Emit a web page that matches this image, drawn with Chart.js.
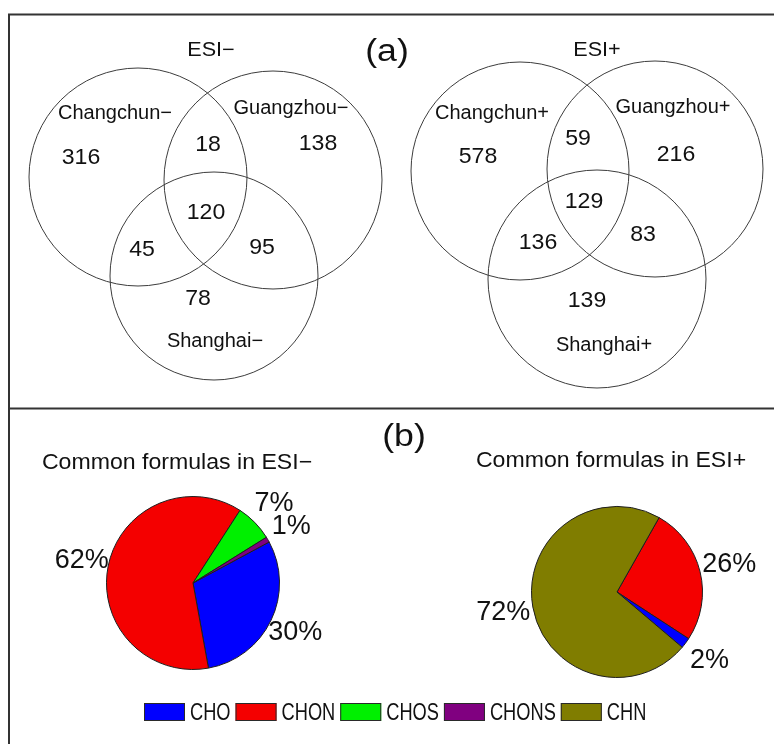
<!DOCTYPE html>
<html>
<head>
<meta charset="utf-8">
<script src="https://cdn.jsdelivr.net/npm/chart.js@4.4.0/dist/chart.umd.min.js"></script>
<style>
  html, body { margin: 0; padding: 0; background: #fff; }
  body { width: 774px; height: 744px; position: relative; overflow: hidden; }
  canvas { position: absolute; }
  #main { left: 0; top: 0; }
  #pieNeg { left: 43px; top: 463px; }
  #piePos { left: 467px; top: 472px; }
</style>
</head>
<body>
<canvas id="main" width="774" height="744"></canvas>
<canvas id="pieNeg" width="300" height="240"></canvas>
<canvas id="piePos" width="300" height="240"></canvas>
<script>
// ---- Venn counts (number of molecular formulas per region) ----
const setNames = ['Changchun', 'Guangzhou', 'Shanghai'];
const ionModes = ['ESI−', 'ESI+'];
const modeSuffix = ['−', '+'];
// region order: only Changchun, only Guangzhou, Changchun∩Guangzhou, all three,
//               Changchun∩Shanghai, Guangzhou∩Shanghai, only Shanghai
const countsNeg = [316, 138, 18, 120, 45, 95, 78];
const countsPos = [578, 216, 59, 129, 136, 83, 139];

// ---- Composition of the formulas common to all three cities (%) ----
const formulaClasses = ['CHO', 'CHON', 'CHOS', 'CHONS', 'CHN'];
const classColors = ['#0000ff', '#f40000', '#00f000', '#800080', '#807d00'];
const commonShareNeg = [30, 62, 7, 1, 0];
const commonSharePos = [2, 26, 0, 0, 72];

const FONT = '"Liberation Sans", Arial, sans-serif';
const INK = '#111';

// Placement of circles and labels on the Venn canvas (canvas units)
const vennLayout = [
  { header: [211, 50],
    circles: [[138, 177, 109], [273, 180, 109], [214, 276, 104]],
    names: [[115, 113], [291, 108], [215, 341]],
    counts: [[81, 158], [318, 144], [208, 145], [206, 213], [142, 250], [262, 248], [198, 299]] },
  { header: [597, 50],
    circles: [[520, 171, 109], [655, 169, 108], [597, 279, 109]],
    names: [[492, 113], [673, 107], [604, 345]],
    counts: [[478, 157], [676, 155], [578, 139], [584, 202], [538, 243], [643, 235], [587, 301]] }
];
const vennCounts = [countsNeg, countsPos];

const pieLayout = [
  { id: 'pieNeg', shares: commonShareNeg, title: [177, 463], order: ['CHO', 'CHON', 'CHOS', 'CHONS'],
    rotation: 61.7, pad: { left: 63, right: 63, top: 33, bottom: 33 }, offset: 27 },
  { id: 'piePos', shares: commonSharePos, title: [611, 461], order: ['CHON', 'CHO', 'CHN'],
    rotation: 29.5, pad: { left: 64, right: 64, top: 34, bottom: 34 }, offset: 30 }
];
const panelTags = [['(a)', 387, 52], ['(b)', 404, 437]];
const legendStart = [144, 703];

function drawText(ctx, str, px, py, size, sx = 1, align = 'center') {
  ctx.save();
  ctx.translate(px, py);
  ctx.scale(sx, 1);
  ctx.font = size + 'px ' + FONT;
  ctx.fillStyle = INK;
  ctx.textAlign = align;
  ctx.textBaseline = 'middle';
  ctx.fillText(str, 0, 0);
  ctx.restore();
}

// Frame, Venn labels, panel titles and the shared legend
const figureDecor = {
  id: 'figureDecor',
  beforeDatasetsDraw(chart) {
    const ctx = chart.ctx, xs = chart.scales.x, ys = chart.scales.y;
    ctx.save();
    ctx.strokeStyle = '#333';
    ctx.lineWidth = 2;
    ctx.beginPath();
    ctx.moveTo(xs.getPixelForValue(9), ys.getPixelForValue(744));
    ctx.lineTo(xs.getPixelForValue(9), ys.getPixelForValue(14.5));
    ctx.lineTo(xs.getPixelForValue(774), ys.getPixelForValue(14.5));
    ctx.moveTo(xs.getPixelForValue(9), ys.getPixelForValue(408.5));
    ctx.lineTo(xs.getPixelForValue(774), ys.getPixelForValue(408.5));
    ctx.stroke();
    ctx.restore();
  },
  afterDatasetsDraw(chart) {
    const ctx = chart.ctx, xs = chart.scales.x, ys = chart.scales.y;
    const P = (p) => [xs.getPixelForValue(p[0]), ys.getPixelForValue(p[1])];

    panelTags.forEach(([t, x, y]) => { const [px, py] = P([x, y]); drawText(ctx, t, px, py, 31, 1.15); });

    vennLayout.forEach((g, m) => {
      let [hx, hy] = P(g.header);
      drawText(ctx, ionModes[m], hx, hy, 20, 1.08);
      g.names.forEach((p, i) => {
        const [px, py] = P(p);
        drawText(ctx, setNames[i] + modeSuffix[m], px, py, 20);
      });
      g.counts.forEach((p, i) => {
        const [px, py] = P(p);
        drawText(ctx, String(vennCounts[m][i]), px, py, 22, 1.05);
      });
    });

    pieLayout.forEach((pl, m) => {
      const [px, py] = P(pl.title);
      drawText(ctx, 'Common formulas in ' + ionModes[m], px, py, 22, 1.05);
    });

    // legend: colour box followed by a condensed label
    let [lx, ly] = P(legendStart);
    const sx = 0.76;
    ctx.save();
    formulaClasses.forEach((name, i) => {
      ctx.fillStyle = classColors[i];
      ctx.fillRect(lx, ly, 41, 18);
      ctx.strokeStyle = '#2a2a2a';
      ctx.lineWidth = 1;
      ctx.strokeRect(lx + 0.5, ly + 0.5, 40, 17);
      const tx = lx + 46;
      drawText(ctx, name, tx, ly + 10.5, 24, sx, 'left');
      ctx.font = '24px ' + FONT;
      lx = tx + ctx.measureText(name).width * sx + 5;
    });
    ctx.restore();
  }
};

const vennData = [];
vennLayout.forEach(g => g.circles.forEach(c => vennData.push({ x: c[0], y: c[1], r: c[2] })));

new Chart(document.getElementById('main'), {
  type: 'bubble',
  data: {
    datasets: [{
      data: vennData,
      backgroundColor: 'rgba(0,0,0,0)',
      borderColor: '#3c3c3c',
      borderWidth: 1,
      clip: false
    }]
  },
  options: {
    responsive: false,
    animation: false,
    events: [],
    layout: { padding: 0, autoPadding: false },
    scales: {
      x: { type: 'linear', min: 0, max: 774, display: false },
      y: { type: 'linear', min: 0, max: 744, reverse: true, display: false }
    },
    plugins: { legend: { display: false }, tooltip: { enabled: false } }
  },
  plugins: [figureDecor]
});

// Percentage labels placed just outside each slice, along its mid-angle
const pctLabels = {
  id: 'pctLabels',
  afterDatasetsDraw(chart, args, opts) {
    const ctx = chart.ctx;
    const values = chart.data.datasets[0].data;
    chart.getDatasetMeta(0).data.forEach((arc, i) => {
      const { x, y, startAngle, endAngle, outerRadius } =
        arc.getProps(['x', 'y', 'startAngle', 'endAngle', 'outerRadius'], true);
      const mid = (startAngle + endAngle) / 2;
      const d = outerRadius + opts.offset;
      drawText(ctx, values[i] + '%', x + Math.cos(mid) * d, y + Math.sin(mid) * d, 27);
    });
  }
};

pieLayout.forEach(pl => {
  const idx = pl.order.map(n => formulaClasses.indexOf(n));
  new Chart(document.getElementById(pl.id), {
    type: 'pie',
    data: {
      labels: idx.map(i => formulaClasses[i]),
      datasets: [{
        data: idx.map(i => pl.shares[i]),
        backgroundColor: idx.map(i => classColors[i]),
        borderColor: '#1e1e1e',
        borderWidth: 1
      }]
    },
    options: {
      responsive: false,
      animation: false,
      events: [],
      rotation: pl.rotation,
      layout: { padding: pl.pad },
      plugins: {
        legend: { display: false },
        tooltip: { enabled: false },
        pctLabels: { offset: pl.offset }
      }
    },
    plugins: [pctLabels]
  });
});
</script>
</body>
</html>
